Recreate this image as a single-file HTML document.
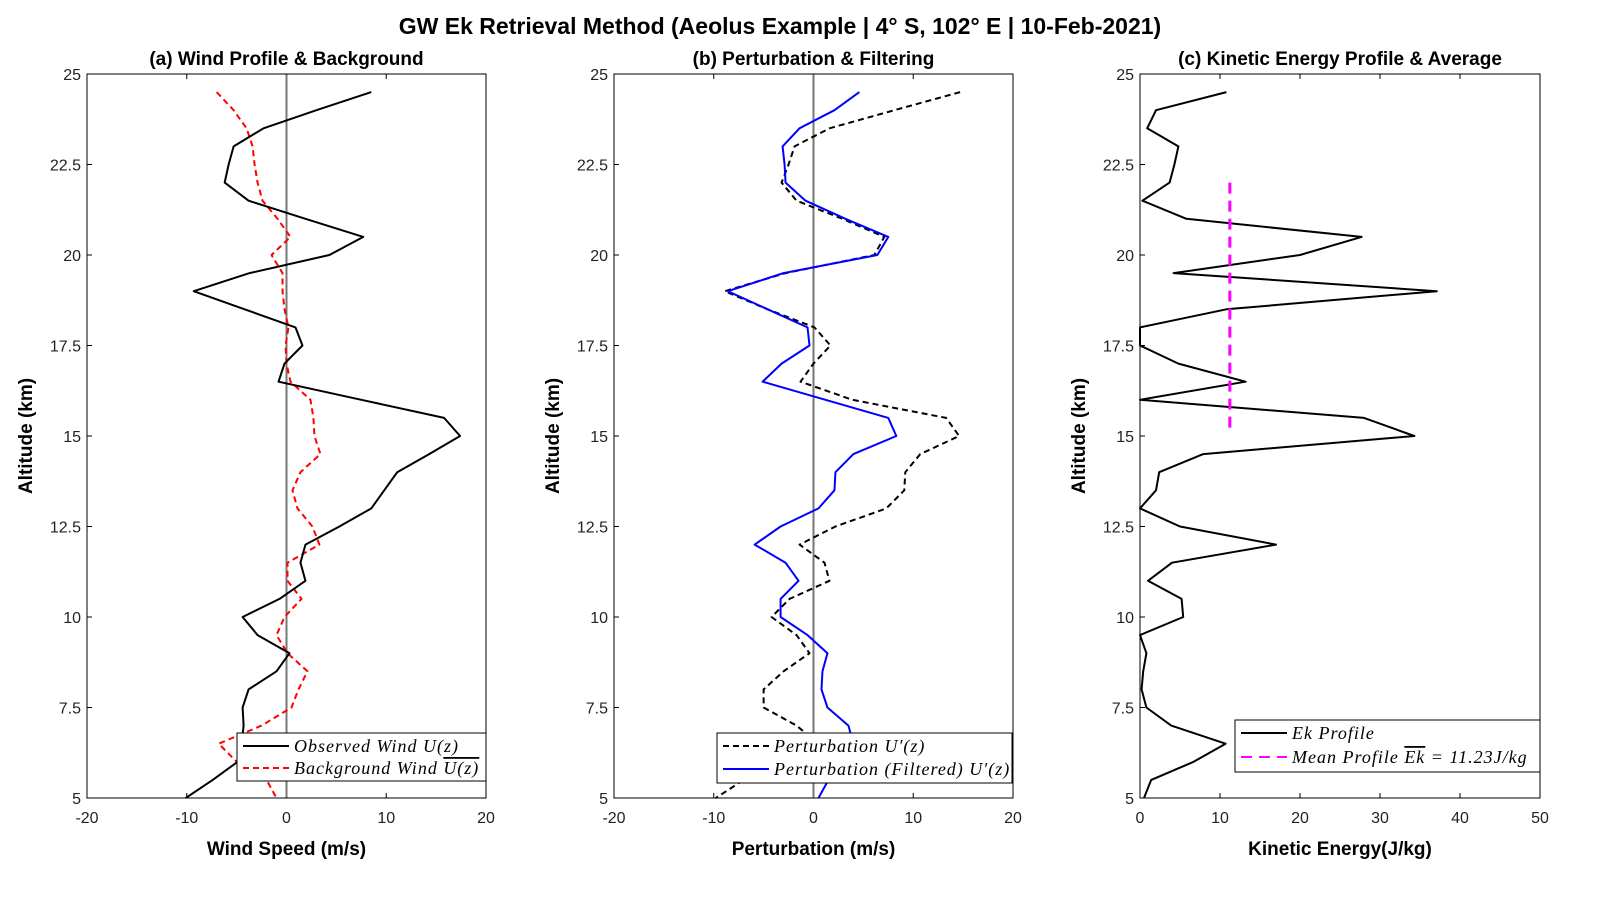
<!DOCTYPE html>
<html><head><meta charset="utf-8"><style>
body{margin:0;background:#fff}
svg text{font-family:"Liberation Sans",Arial,sans-serif}
.lg{font-family:"Liberation Serif",serif;font-style:italic;font-size:18px;letter-spacing:1px}
</style></head><body>
<svg id="fig" width="1603" height="895" xmlns="http://www.w3.org/2000/svg">
<rect width="1603" height="895" fill="#fff"/>
<text x="780" y="34" text-anchor="middle" font-size="23" font-weight="bold">GW Ek Retrieval Method (Aeolus Example | 4° S, 102° E | 10-Feb-2021)</text>
</svg>
<script>
const altitudes=[24.5,24,23.5,23,22.5,22,21.5,21,20.5,20,19.5,19,18.5,18,17.5,17,16.5,16,15.5,15,14.5,14,13.5,13,12.5,12,11.5,11,10.5,10,9.5,9,8.5,8,7.5,7,6.5,6,5.5,5];
const observedWind=[8.5,3.0,-2.3,-5.3,-5.8,-6.2,-3.8,1.9,7.7,4.3,-3.7,-9.3,-4.2,0.9,1.6,-0.2,-0.8,7.5,15.8,17.4,14.3,11.1,9.8,8.5,5.3,1.9,1.4,1.9,-0.7,-4.4,-2.9,0.3,-1.0,-3.8,-4.4,-4.3,-4.5,-4.9,-7.4,-10.1];
const backgroundWind=[-7.0,-5.3,-4.0,-3.4,-3.2,-2.9,-2.4,-0.9,0.4,-1.5,-0.4,-0.4,-0.2,0.2,-0.1,0,0.4,2.4,2.7,2.8,3.4,1.4,0.6,1.1,2.6,3.3,0.1,0.1,1.5,-0.2,-1.0,0.1,2.1,1.2,0.5,-2.5,-6.8,-5.0,-2.0,-1.0];
const perturbation=[14.7,8.1,1.6,-1.9,-2.5,-3.2,-1.7,2.9,7.1,6.1,-2.8,-8.9,-4.6,0.1,1.7,0,-1.3,3.9,13.3,14.6,10.7,9.2,9.1,7.3,2.2,-1.4,1.1,1.6,-2.4,-4.2,-1.7,-0.4,-3.0,-5.0,-5.0,-1.7,0.5,-3.5,-7.0,-9.8];
const filtered=[4.6,2.1,-1.4,-3.1,-2.9,-2.8,-0.8,3.2,7.5,6.4,-3.0,-8.6,-4.6,-0.6,-0.4,-3.2,-5.1,1.2,7.5,8.3,4.0,2.2,2.1,0.5,-3.3,-5.9,-2.8,-1.5,-3.3,-3.3,-0.6,1.4,0.9,0.8,1.4,3.5,4.0,3.0,1.5,0.5];
const kineticEnergy=[10.8,2.0,0.9,4.8,4.3,3.7,0.3,5.8,27.7,20.0,4.2,37.1,10.8,0,0,4.8,13.2,0,28.0,34.3,7.9,2.4,2.0,0,5.0,17.0,4.0,1.0,5.2,5.4,0,0.8,0.4,0.2,0.8,3.9,10.7,6.7,1.4,0.5];
const meanEk=11.23;
const meanRange=[15.2,22.0];
const yTicks=[5,7.5,10,12.5,15,17.5,20,22.5,25];
const yTickLabels=["5","7.5","10","12.5","15","17.5","20","22.5","25"];
const xTicksWind=[-20,-10,0,10,20];
const xTicksKE=[0,10,20,30,40,50];

const svg=document.getElementById('fig');
const NS='http://www.w3.org/2000/svg';
function mk(tag,attrs,parent){const e=document.createElementNS(NS,tag);for(const k in attrs)e.setAttribute(k,attrs[k]);(parent||svg).appendChild(e);return e;}
const yTop=74,yBot=798;
function yS(v){return yBot-(v-5)/20*(yBot-yTop);}
function panel(id,x0,x1,xmin,xmax,xt,title,xlabel){
  const g=mk('g',{});
  
  
  const xs=v=>x0+(v-xmin)/(xmax-xmin)*(x1-x0);
  const t=mk('text',{x:(x0+x1)/2,y:65,'text-anchor':'middle','font-size':19,'font-weight':'bold'},g);t.textContent=title;
  
  
  yTicks.forEach((v,i)=>{
    mk('line',{x1:x0,x2:x0+5,y1:yS(v),y2:yS(v),stroke:'#000'},g);
    const tl=mk('text',{x:x0-6,y:yS(v)+6,'text-anchor':'end','font-size':16,fill:'#222'},g);tl.textContent=yTickLabels[i];
    
    
  });
  xt.forEach(v=>{
    mk('line',{x1:xs(v),x2:xs(v),y1:yBot,y2:yBot-5,stroke:'#000'},g);
    mk('line',{x1:xs(v),x2:xs(v),y1:yTop,y2:yTop+5,stroke:'#000'},g);
    const tl=mk('text',{x:xs(v),y:yBot+25,'text-anchor':'middle','font-size':16,fill:'#222'},g);tl.textContent=v;
    
    
  });
  const xl=mk('text',{x:(x0+x1)/2,y:855,'text-anchor':'middle','font-size':19,'font-weight':'bold'},g);xl.textContent=xlabel;
  
  
  const yl=mk('text',{x:0,y:0,'text-anchor':'middle','font-size':19,'font-weight':'bold',transform:`translate(${x0-55},${(yTop+yBot)/2}) rotate(-90)`},g);yl.textContent='Altitude (km)';
  
  
  return {g,xs};
}
function line(g,xs,vals,color,dash,w,name){
  const p=mk('polyline',{points:vals.map((v,i)=>xs(v)+','+yS(altitudes[i])).join(' '),fill:'none',stroke:color,'stroke-width':w,'stroke-dasharray':dash||'none','stroke-linejoin':'round'},g);
  
  
}
function frame(g,x0,x1){mk('rect',{x:x0,y:yTop,width:x1-x0,height:yBot-yTop,fill:'none',stroke:'#000','stroke-width':1},g);}
function legend(g,x,y,w,h,items){
  const lg=mk('g',{},g);
  
  
  mk('rect',{x,y,width:w,height:h,fill:'#fff',stroke:'#000','stroke-width':1},lg);
  items.forEach((it,i)=>{
    const yy=y+13+i*(h-4)/2;
    mk('line',{x1:x+6,x2:x+52,y1:yy,y2:yy,stroke:it.c,'stroke-width':2,'stroke-dasharray':it.d||'none'},lg);
    const t=mk('text',{x:x+57,y:yy+6,class:'lg'},lg);t.innerHTML=it.t;
    
    
  });
}
// panel a
let P=panel('panel-wind',87,486,-20,20,xTicksWind,'(a) Wind Profile & Background','Wind Speed (m/s)');
mk('line',{x1:P.xs(0),x2:P.xs(0),y1:yTop,y2:yBot,stroke:'#777','stroke-width':2},P.g);
line(P.g,P.xs,backgroundWind,'#f00','6,4',2,'background-wind-line');
line(P.g,P.xs,observedWind,'#000','',2,'observed-wind-line');
frame(P.g,87,486);
legend(P.g,237,733,249,48,[{c:'#000',t:'Observed Wind U(z)'},{c:'#f00',d:'6,4',t:'Background Wind <tspan text-decoration="overline">U(z)</tspan>'}]);
// panel b
P=panel('panel-perturbation',614,1013,-20,20,xTicksWind,'(b) Perturbation & Filtering','Perturbation (m/s)');
mk('line',{x1:P.xs(0),x2:P.xs(0),y1:yTop,y2:yBot,stroke:'#777','stroke-width':2},P.g);
line(P.g,P.xs,perturbation,'#000','6,4',2,'perturbation-line');
line(P.g,P.xs,filtered,'#00f','',2,'filtered-perturbation-line');
frame(P.g,614,1013);
legend(P.g,717,733,295,50,[{c:'#000',d:'6,4',t:"Perturbation U′(z)"},{c:'#00f',t:"Perturbation (Filtered) U′(z)"}]);
// panel c
P=panel('panel-kinetic-energy',1140,1540,0,50,xTicksKE,'(c) Kinetic Energy Profile & Average','Kinetic Energy(J/kg)');
line(P.g,P.xs,kineticEnergy,'#000','',2,'ek-profile-line');
const ml=mk('line',{x1:P.xs(meanEk),x2:P.xs(meanEk),y1:yS(meanRange[1]),y2:yS(meanRange[0]),stroke:'#f0f','stroke-width':3,'stroke-dasharray':'11,7'},P.g);


frame(P.g,1140,1540);
legend(P.g,1235,720,305,52,[{c:'#000',t:'Ek Profile'},{c:'#f0f',d:'11,7',t:'Mean Profile <tspan text-decoration="overline">Ek</tspan> = '+meanEk+'J/kg'}]);
</script>
</body></html>
